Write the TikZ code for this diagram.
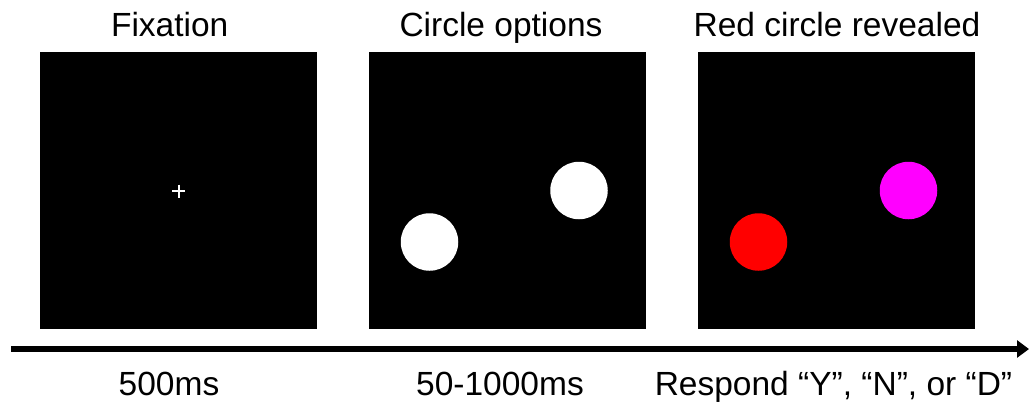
\documentclass[tikz,border=0pt]{standalone}
\usepackage{fontspec}
\setmainfont{Liberation Sans}
\usetikzlibrary{arrows.meta}
\definecolor{pureRed}{RGB}{255,0,0}
\definecolor{pureMagenta}{RGB}{255,0,255}
\begin{document}
\begin{tikzpicture}[x=1pt,y=-1pt,
  panel/.style={fill=black,draw=none,minimum width=277pt,minimum height=276.5pt,inner sep=0pt,outer sep=0pt},
  dot/.style={circle,minimum size=57.5pt,inner sep=0pt,draw=none},
  lbl/.style={anchor=base,font=\fontsize{33.5}{40}\selectfont,inner sep=0pt},
  timeline/.style={line width=6pt,-{Triangle[length=12pt,width=17pt]}}]
\useasboundingbox (0,0) rectangle (1029,405);
% panels
\node[panel] (p1) at (178.5,190.25) {};
\node[panel] (p2) at (507.5,190.25) {};
\node[panel] (p3) at (836.5,190.25) {};
% titles
\node[lbl] (t1) at (169.7,36.7) {Fixation};
\node[lbl] (t2) at (501,36.7) {Circle options};
\node[lbl] (t3) at (837,36.7) {Red circle revealed};
% fixation cross
\draw[white,line width=2pt] (172,191) -- (185,191);
\draw[white,line width=2pt] (178.5,184.5) -- (178.5,197.5);
% circles
\node[dot,fill=white] (c1) at (429.5,242) {};
\node[dot,fill=white] (c2) at (579,190.5) {};
\node[dot,fill=pureRed] (c3) at (758.5,242) {};
\node[dot,fill=pureMagenta] (c4) at (908.5,190.5) {};
% timeline
\coordinate (a0) at (11,349);
\coordinate (a1) at (1029,349);
\draw[timeline] (a0) -- (a1);
% bottom labels
\node[lbl] (b1) at (169,395.5) {500ms};
\node[lbl] (b2) at (500,395.5) {50-1000ms};
\node[lbl] (b3) at (833.5,395.5) {Respond “Y”, “N”, or “D”};
\end{tikzpicture}
\end{document}
